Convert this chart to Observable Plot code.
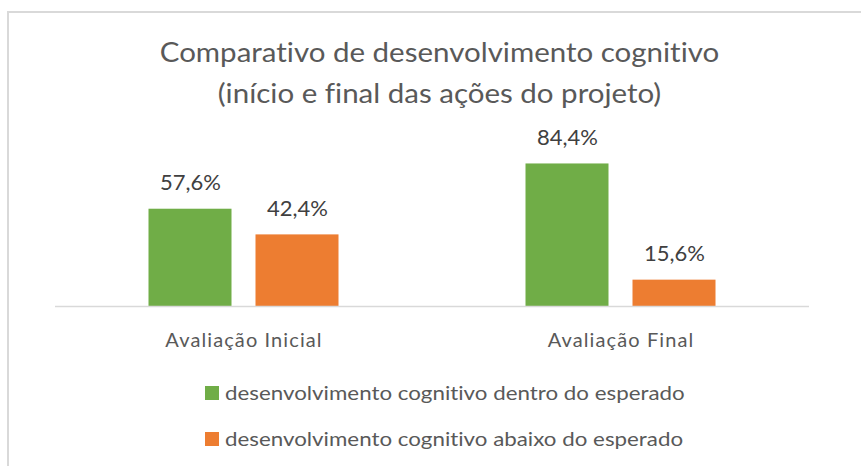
<!DOCTYPE html>
<html><head><meta charset="utf-8">
<script src="https://cdn.jsdelivr.net/npm/d3@7"></script>
<script src="https://cdn.jsdelivr.net/npm/@observablehq/plot@0.6"></script>
<style>
body{margin:0;background:#fff;width:861px;height:466px;overflow:hidden;position:relative;font-family:Lato,sans-serif;font-variant-ligatures:none;}
#frame{position:absolute;left:7px;top:11px;width:900px;height:500px;border-left:2px solid #d9d9d9;border-top:2px solid #d9d9d9;}
#title{position:absolute;left:9px;width:861px;top:32px;text-align:center;color:#595959;font-size:26px;line-height:41px;transform:scaleX(1.134);transform-origin:50% 50%;}
#chart{position:absolute;left:0;top:110px;}
#chart text{font-variant-ligatures:none;}
#chart g[aria-label="fx-axis tick label"] text{letter-spacing:1.1px;}
#legend{position:absolute;left:205px;top:379px;color:#595959;font-size:19px;}
.item{position:absolute;left:0;white-space:nowrap;height:28px;line-height:28px;}
.sw{position:absolute;left:0;top:7px;width:14px;height:14px;}
.lt{position:absolute;left:20px;top:0;transform:scaleX(1.175);transform-origin:0 50%;}
</style></head>
<body>
<div id="frame"></div>
<div id="title"></div>
<div id="chart"></div>
<div id="legend"></div>
<script>
const titleLines = ["Comparativo de desenvolvimento cognitivo", "(início e final das ações do projeto)"];
const categories = ["Avaliação Inicial", "Avaliação Final"];
const series = ["desenvolvimento cognitivo dentro do esperado", "desenvolvimento cognitivo abaixo do esperado"];
const dentro = [57.6, 84.4];
const abaixo = [42.4, 15.6];
const colors = ["#70AD47", "#ED7D31"];

const data = categories.flatMap((c, i) => [
  {cat: c, serie: series[0], v: dentro[i]},
  {cat: c, serie: series[1], v: abaixo[i]}
]);

document.getElementById("title").innerHTML = titleLines.map(t => `<div>${t}</div>`).join("");

const fmt = v => v.toFixed(1).replace(".", ",") + "%";

const chart = Plot.plot({
  width: 861, height: 250,
  marginLeft: 54.5, marginRight: 52.5, marginTop: 44, marginBottom: 54,
  style: {fontFamily: "Lato, sans-serif", color: "#595959", background: "transparent", overflow: "visible"},
  fx: {domain: categories, padding: 0, label: null},
  x: {domain: series, paddingInner: 0.2222, paddingOuter: 0.8565, axis: null},
  y: {domain: [0, 90], axis: null},
  color: {domain: series, range: colors},
  marks: [
    Plot.barY(data, {fx: "cat", x: "serie", y: "v", fill: "serie"}),
    Plot.ruleY([0], {stroke: "#d9d9d9", strokeWidth: 1.5}),
    Plot.text(data, {fx: "cat", x: "serie", y: "v", text: d => fmt(d.v), dy: -26, fill: "#404040", fontSize: 22}),
    Plot.axisFx({anchor: "bottom", tickSize: 0, tickPadding: 26, fontSize: 20, label: null})
  ]
});
document.getElementById("chart").appendChild(chart);

const legend = document.getElementById("legend");
series.forEach((s, i) => {
  const d = document.createElement("div");
  d.className = "item";
  d.style.top = (i * 46) + "px";
  d.innerHTML = `<span class="sw" style="background:${colors[i]}"></span><span class="lt">${s}</span>`;
  legend.appendChild(d);
});
</script>
</body></html>
